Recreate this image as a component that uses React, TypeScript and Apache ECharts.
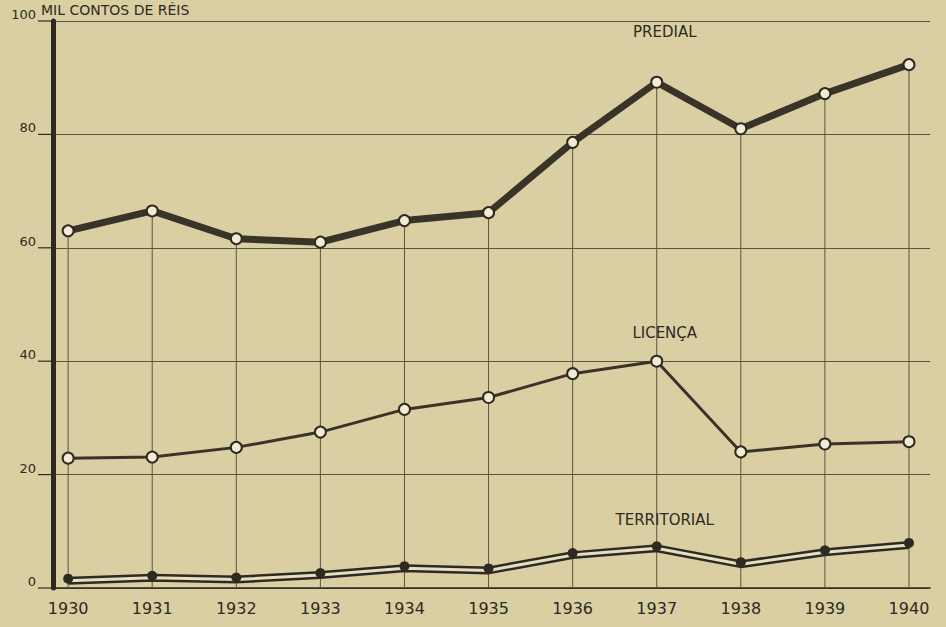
import React, { useEffect, useRef } from "react";
import * as echarts from "echarts";

const years = [1930, 1931, 1932, 1933, 1934, 1935, 1936, 1937, 1938, 1939, 1940];
const predial = [63, 66.5, 61.6, 61, 64.8, 66.2, 78.6, 89.2, 81, 87.2, 92.3];
const licenca = [22.9, 23.1, 24.8, 27.5, 31.5, 33.6, 37.8, 40, 24, 25.4, 25.8];
const territorial = [1.3, 1.8, 1.5, 2.3, 3.5, 3.1, 5.8, 7.0, 4.2, 6.3, 7.6];
const yTicks = [0, 20, 40, 60, 80, 100];
const unitLabel = "MIL CONTOS DE RÉIS";
const labelYear = 1937;

const BG = "#d9cfa2";
const INK = "#2e2a22";
const GRID = "#5a5442";
const FONT = "DejaVu Sans";

function pairs(vals: number[]) {
  return years.map((y, i) => ({ value: [y, vals[i]] }));
}

function labelled(vals: number[], text: string, dist: number) {
  return years.map((y, i) => {
    const item: any = { value: [y, vals[i]] };
    if (y === labelYear) {
      item.label = {
        show: true,
        formatter: text,
        position: "top",
        distance: dist,
        color: INK,
        fontFamily: FONT,
        fontSize: 15,
        offset: [8, 0],
      };
    }
    return item;
  });
}

export default function App() {
  const ref = useRef<HTMLDivElement>(null);
  useEffect(() => {
    if (!ref.current) return;
    const chart = echarts.init(ref.current, null, { renderer: "svg" });
    const option: any = {
      animation: false,
      backgroundColor: BG,
      grid: { left: 53, right: 16, top: 21, bottom: 39 },
      xAxis: {
        type: "value",
        min: years[0] - 0.18,
        max: years[years.length - 1] + 0.25,
        axisLine: { show: true, onZero: false, lineStyle: { color: INK, width: 1.5 } },
        axisTick: { show: false },
        splitLine: { show: false },
        axisLabel: {
          customValues: years,
          formatter: (v: number) => String(v),
          color: INK,
          fontFamily: FONT,
          fontSize: 16,
          margin: 12,
        },
      },
      yAxis: {
        type: "value",
        min: 0,
        max: 100,
        interval: 20,
        axisLine: { show: true, onZero: false, lineStyle: { color: INK, width: 5 } },
        axisTick: { show: false },
        splitLine: { show: true, lineStyle: { color: GRID, width: 1.2 } },
        axisLabel: {
          customValues: yTicks,
          color: INK,
          fontFamily: FONT,
          fontSize: 13,
          margin: 17,
          verticalAlign: "bottom",
        },
      },
      graphic: [
        {
          type: "text",
          left: 41,
          top: 3,
          style: { text: unitLabel, fill: INK, font: `14px "${FONT}"` },
        },
      ],
      series: [
        {
          type: "bar",
          data: pairs(predial),
          barWidth: 1,
          itemStyle: { color: GRID },
          z: 1,
          silent: true,
        },
        {
          type: "line",
          data: labelled(predial, "PREDIAL", 36),
          lineStyle: { color: "#3a3328", width: 7 },
          symbol: "circle",
          symbolSize: 11,
          itemStyle: { color: "#f2ecd4", borderColor: INK, borderWidth: 2 },
          z: 5,
        },
        {
          type: "line",
          data: labelled(licenca, "LICENÇA", 14),
          lineStyle: { color: "#3a3328", width: 3 },
          symbol: "circle",
          symbolSize: 11,
          itemStyle: { color: "#f2ecd4", borderColor: INK, borderWidth: 2 },
          z: 5,
        },
        {
          type: "line",
          data: pairs(territorial),
          lineStyle: { color: INK, width: 8 },
          symbol: "none",
          z: 4,
        },
        {
          type: "line",
          data: pairs(territorial),
          lineStyle: { color: "#e6dec0", width: 3 },
          symbol: "none",
          z: 5,
        },
        {
          type: "line",
          data: labelled(territorial, "TERRITORIAL", 14),
          lineStyle: { opacity: 0 },
          symbol: "circle",
          symbolSize: 10,
          symbolOffset: [0, -2],
          itemStyle: { color: INK },
          z: 6,
        },
      ],
    };
    chart.setOption(option);
    // short tick dashes left of the y axis, placed through the axis scale
    const ticks = yTicks.map((v) => {
      const y = chart.convertToPixel({ yAxisIndex: 0 }, v) as number;
      const x0 = chart.convertToPixel({ xAxisIndex: 0 }, years[0] - 0.18) as number;
      return {
        type: "line",
        shape: { x1: x0 - 15, y1: y, x2: x0, y2: y },
        style: { stroke: INK, lineWidth: 1.2 },
        z: 10,
      };
    });
    chart.setOption({
      graphic: [
        {
          type: "text",
          left: 41,
          top: 3,
          style: { text: unitLabel, fill: INK, font: `14px "${FONT}"` },
        },
        ...ticks,
      ],
    });
    return () => chart.dispose();
  }, []);
  return (
    <div
      ref={ref}
      style={{ position: "fixed", left: 0, top: 0, width: 946, height: 627 }}
    />
  );
}
